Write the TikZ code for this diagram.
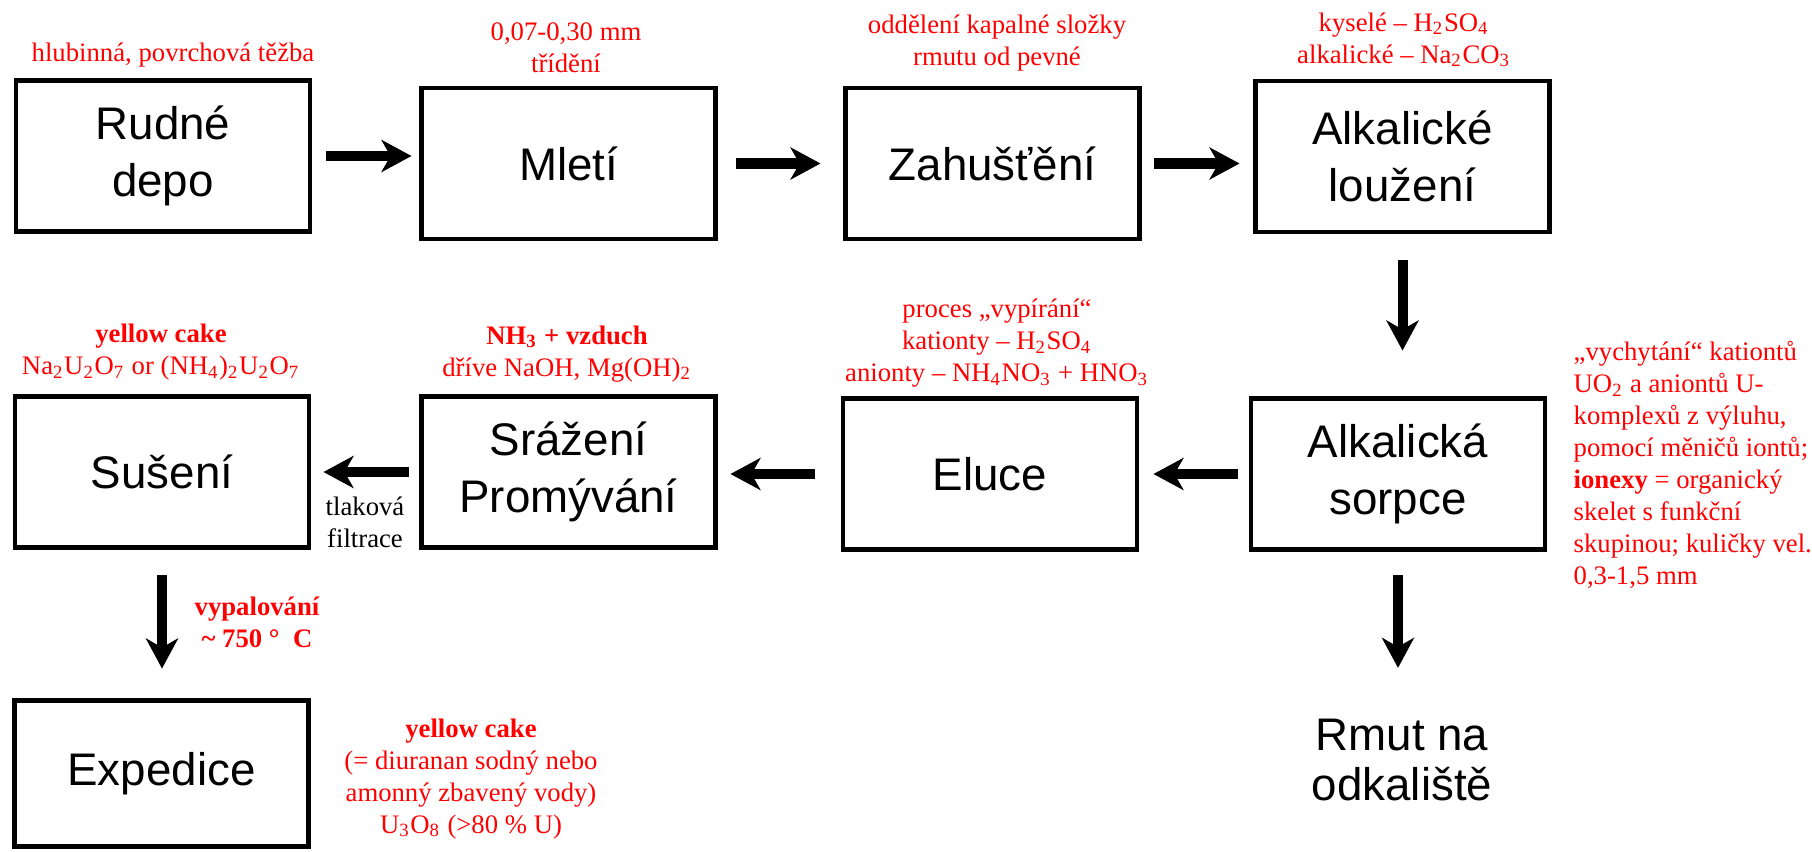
\documentclass[tikz,border=0pt]{standalone}
\usepackage{fontspec}
\setmainfont{Liberation Serif}
\setsansfont{Liberation Sans}
\usetikzlibrary{arrows.meta}

\begin{document}
\begin{tikzpicture}[
    box/.style={draw, line width=1.4pt, minimum width=2.94cm, minimum height=1.51cm,
      inner sep=0pt, align=center, font=\sffamily\fontsize{13}{16.2}\selectfont},
    note/.style={text=red, align=center, inner sep=0pt, font=\fontsize{7.6}{9.1}\selectfont},
    flow/.style={line width=2.85pt, -{Stealth[length=3mm, width=3.2mm, inset=0.9mm]}},
  ]
  \useasboundingbox (0,0) rectangle (18.12,-8.51);

  \node[box] (rudne) at (1.63,-1.56) {Rudné\\depo};
  \node[box] (mleti) at (5.685,-1.635) {Mletí};
  \node[box] (zahus) at (9.925,-1.635) {Zahušťění};
  \node[box] (louz) at (14.025,-1.565) {Alkalické\\loužení};
  \node[box] (suseni) at (1.62,-4.72) {Sušení};
  \node[box] (srazeni) at (5.685,-4.72) {Srážení\\Promývání};
  \node[box] (eluce) at (9.90,-4.74) {Eluce};
  \node[box] (sorpce) at (13.98,-4.74) {Alkalická\\sorpce};
  \node[box, minimum height=1.46cm] (exped) at (1.615,-7.735) {Expedice};
  \node[align=center, inner sep=0pt, font=\sffamily\fontsize{13}{14.5}\selectfont]
    (rmut) at (14.02,-7.6) {Rmut na\\odkaliště};

  \node[note] (nrudne) at (1.73,-0.55) {hlubinná, povrchová těžba};
  \node[note] (nmleti) at (5.66,-0.475) {0,07-0,30 mm\\třídění};
  \node[note] (nzahus) at (9.97,-0.435) {oddělení kapalné složky\\rmutu od pevné};
  \node[note] (nlouz) at (14.04,-0.40)
    {kyselé – H\textsubscript{2}SO\textsubscript{4}\\alkalické – Na\textsubscript{2}CO\textsubscript{3}};
  \node[note] (nsuseni) at (1.61,-3.525)
    {\textbf{yellow cake}\\Na\textsubscript{2}U\textsubscript{2}O\textsubscript{7} or
     (NH\textsubscript{4})\textsubscript{2}U\textsubscript{2}O\textsubscript{7}};
  \node[note] (nsrazeni) at (5.67,-3.54)
    {\textbf{NH\textsubscript{3} + vzduch}\\dříve NaOH, Mg(OH)\textsubscript{2}};
  \node[note] (neluce) at (9.97,-3.435)
    {proces „vypírání“\\kationty – H\textsubscript{2}SO\textsubscript{4}\\
     anionty – NH\textsubscript{4}NO\textsubscript{3} + HNO\textsubscript{3}};
  \node[note, anchor=west, align=left] (nsorpce) at (15.73,-4.65)
    {„vychytání“ kationtů\\UO\textsubscript{2} a aniontů U-\\komplexů z výluhu,\\
     pomocí měničů iontů;\\\textbf{ionexy} = organický\\skelet s funkční\\
     skupinou; kuličky vel.\\0,3-1,5 mm};
  \node[note, text=black] (nfiltr) at (3.65,-5.225) {tlaková\\filtrace};
  \node[note, font=\bfseries\fontsize{7.6}{9.1}\selectfont] (nvypal) at (2.57,-6.225)
    {vypalování\\\textasciitilde{} 750 ° \ C};
  \node[note] (nexped) at (4.71,-7.79)
    {\textbf{yellow cake}\\(= diuranan sodný nebo\\amonný zbavený vody)\\
     U\textsubscript{3}O\textsubscript{8} (>80 \% U)};

  \draw[flow, shorten <=0.14cm, shorten >=0.075cm] (rudne.east) -- (rudne.east -| mleti.west);
  \draw[flow, shorten <=0.185cm, shorten >=0.225cm] (mleti.east) -- (mleti.east -| zahus.west);
  \draw[flow, shorten <=0.125cm, shorten >=0.135cm] (zahus.east) -- (zahus.east -| louz.west);
  \draw[flow, shorten <=0.26cm, shorten >=0.455cm] (louz.south) -- (louz.south |- sorpce.north);
  \draw[flow, shorten <=0.11cm, shorten >=0.14cm] (sorpce.west) -- (sorpce.west -| eluce.east);
  \draw[flow, shorten <=0.26cm, shorten >=0.125cm] (eluce.west) -- (eluce.west -| srazeni.east);
  \draw[flow, shorten <=0.105cm, shorten >=0.12cm] (srazeni.west) -- (srazeni.west -| suseni.east);
  \draw[flow, shorten <=0.255cm, shorten >=0.295cm] (suseni.south) -- (suseni.south |- exped.north);
  \draw[flow, shorten <=0.235cm, shorten >=0.5cm] (sorpce.south) -- (sorpce.south |- rmut.north);
\end{tikzpicture}
\end{document}
